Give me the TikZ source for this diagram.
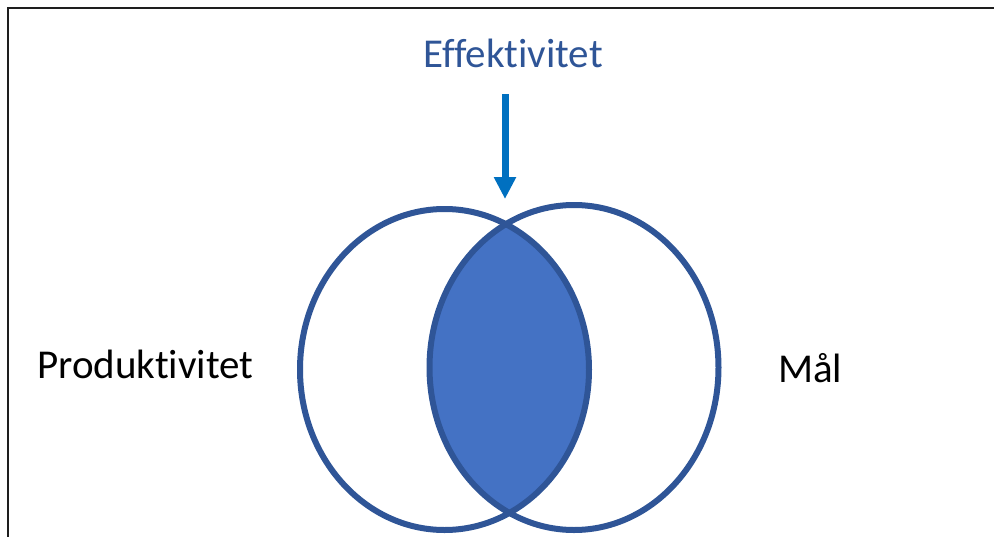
\documentclass[tikz,border=0pt]{standalone}
\usepackage{fontspec}
\setmainfont{Carlito}[Ligatures={NoCommon}]
\usetikzlibrary{arrows.meta}
\definecolor{ringblue}{HTML}{2F5597}
\definecolor{lensblue}{HTML}{4472C4}
\definecolor{arrowblue}{HTML}{0070C0}
\definecolor{framegray}{HTML}{1E1E1E}
\tikzset{
  ring/.style={draw=ringblue, line width=6pt},
  label/.style={inner sep=0pt, anchor=base, font=\fontsize{41}{49}\selectfont},
  pointer/.style={draw=arrowblue, line width=7pt,
    -{Triangle[width=21pt,length=22pt]}},
}
\begin{document}
\begin{tikzpicture}[x=1pt,y=-1pt]
  \useasboundingbox (0,0) rectangle (994,536);
  \fill[white] (0,0) rectangle (994,536);
  % frame
  \draw[framegray, line width=2.5pt] (8,540) -- (8,8) -- (1000,8);
  % ellipses
  \coordinate (lc) at (444.5,369.5);
  \coordinate (rc) at (574,367.5);
  \begin{scope}
    \clip (lc) ellipse [x radius=144.5, y radius=160.5];
    \fill[lensblue] (rc) ellipse [x radius=144.5, y radius=162.5];
  \end{scope}
  \draw[ring] (lc) ellipse [x radius=144.5, y radius=160.5];
  \draw[ring] (rc) ellipse [x radius=144.5, y radius=162.5];
  % labels
  \node[label, text=ringblue] (eff) at (513,67) {Effektivitet};
  \node[label, anchor=base west] (prod) at (37,378) {Produktivitet};
  \node[label, anchor=base west] (maal) at (778,382) {Mål};
  % arrow into the overlap
  \coordinate (arrowtop) at (505,94);
  \coordinate (arrowtip) at (505,199);
  \draw[pointer] (arrowtop) -- (arrowtip);
\end{tikzpicture}
\end{document}
